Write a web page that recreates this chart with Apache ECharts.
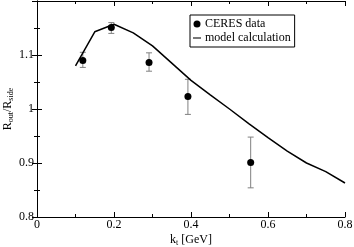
<!DOCTYPE html>
<html><head><meta charset="utf-8">
<script src="https://cdn.jsdelivr.net/npm/echarts@6/dist/echarts.min.js"></script>
<style>html,body{margin:0;padding:0;background:#fff}#c{width:354px;height:247px}</style>
</head><body><div id="c"></div>
<script>
var dataX = [0.119, 0.193, 0.291, 0.392, 0.555];
var dataY = [1.090, 1.151, 1.086, 1.023, 0.901];
var errLow = [1.077, 1.140, 1.070, 0.990, 0.854];
var errHigh = [1.105, 1.160, 1.104, 1.055, 0.948];
var modelX = [0.1, 0.15, 0.2, 0.25, 0.3, 0.35, 0.4, 0.45, 0.5, 0.55, 0.6, 0.65, 0.7, 0.75, 0.8];
var modelY = [1.080, 1.143, 1.157, 1.141, 1.117, 1.085, 1.053, 1.026, 1.000, 0.973, 0.947, 0.922, 0.900, 0.884, 0.863];
var xTicks = [0, 0.2, 0.4, 0.6, 0.8];
var yTicks = [0.8, 0.9, 1, 1.1];

var FONT = 'Liberation Serif';
var chart = echarts.init(document.getElementById('c'), null, {renderer: 'canvas'});
function axisCommon(show) {
  return {
    axisLine: {show: true, lineStyle: {color: '#000', width: 1}},
    axisTick: {show: true, inside: true, length: 5, lineStyle: {color: '#000'}},
    minorTick: {show: true, splitNumber: 2, length: 3, lineStyle: {color: '#000'}},
    splitLine: {show: false},
    axisLabel: {show: show, color: '#000', fontFamily: FONT, fontSize: 12}
  };
}
var xa = axisCommon(true);
xa.type = 'value'; xa.min = 0; xa.max = 0.8; xa.interval = 0.2; xa.position = 'bottom';
xa.axisLabel.margin = 2;
xa.axisLabel.formatter = function (v) { var r = Math.round(v * 10) / 10; return xTicks.indexOf(r) >= 0 ? String(r) : ''; };
xa.name = '{n|k}{s|t}{n| [GeV]}';
xa.nameLocation = 'middle'; xa.nameGap = 16; xa.nameMoveOverlap = false;
xa.nameTextStyle = {rich: {n: {fontFamily: FONT, fontSize: 12, color: '#000'}, s: {fontFamily: FONT, fontSize: 8, color: '#000', verticalAlign: 'bottom', padding: [6, 0, 0, 0]}}};
var xa2 = axisCommon(false);
xa2.type = 'value'; xa2.min = 0; xa2.max = 0.8; xa2.interval = 0.2; xa2.position = 'top';
var ya = axisCommon(true);
ya.type = 'value'; ya.min = 0.8; ya.max = 1.2; ya.interval = 0.1; ya.position = 'left';
ya.axisLabel.margin = 3;
ya.axisLabel.formatter = function (v) { var r = Math.round(v * 10) / 10; return yTicks.indexOf(r) >= 0 ? String(r) : ''; };
ya.name = '{n|R}{s|out}{n|/R}{s|side}';
ya.nameLocation = 'middle'; ya.nameGap = 22; ya.nameRotate = 90; ya.nameMoveOverlap = false;
ya.nameTextStyle = {rich: {n: {fontFamily: FONT, fontSize: 12, color: '#000'}, s: {fontFamily: FONT, fontSize: 8, color: '#000', verticalAlign: 'bottom', padding: [6, 0, 0, 0]}}};
var ya2 = axisCommon(false);
ya2.type = 'value'; ya2.min = 0.8; ya2.max = 1.2; ya2.interval = 0.1; ya2.position = 'right';

var scatterData = dataX.map(function (x, i) { return [x, dataY[i]]; });
var errData = dataX.map(function (x, i) { return [x, errLow[i], errHigh[i]]; });
var modelData = modelX.map(function (x, i) { return [x, modelY[i]]; });

chart.setOption({
  animation: false,
  grid: {left: 37, right: 9, top: 1, bottom: 30, containLabel: false, outerBoundsMode: 'none'},
  xAxis: [xa, xa2],
  yAxis: [ya, ya2],
  legend: {
    orient: 'vertical', left: 190, top: 15, width: 120,
    data: [{name: 'CERES data', icon: 'circle'}, {name: 'model calculation', icon: 'path://M0,0L12,0L12,1.6L0,1.6Z'}],
    itemWidth: 8, itemHeight: 7, itemGap: 2,
    borderColor: '#000', borderWidth: 1, borderRadius: 0, padding: [3, 4, 3, 3],
    textStyle: {fontFamily: FONT, fontSize: 12, color: '#000', padding: [0, 0, 0, -1]}
  },
  series: [
    {
      type: 'custom', name: 'err', xAxisIndex: 0, yAxisIndex: 0, data: errData, z: 2,
      renderItem: function (params, api) {
        var lo = api.coord([api.value(0), api.value(1)]);
        var hi = api.coord([api.value(0), api.value(2)]);
        var w = 3;
        var st = {stroke: '#808080', lineWidth: 1};
        return {type: 'group', children: [
          {type: 'line', shape: {x1: lo[0], y1: lo[1], x2: hi[0], y2: hi[1]}, style: st},
          {type: 'line', shape: {x1: lo[0] - w, y1: lo[1], x2: lo[0] + w, y2: lo[1]}, style: st},
          {type: 'line', shape: {x1: hi[0] - w, y1: hi[1], x2: hi[0] + w, y2: hi[1]}, style: st}
        ]};
      }
    },
    {
      type: 'line', name: 'model calculation', data: modelData, symbol: 'none',
      lineStyle: {color: '#000', width: 1.5}, itemStyle: {color: '#000'}, z: 3
    },
    {
      type: 'scatter', name: 'CERES data', data: scatterData, symbol: 'circle', symbolSize: 7,
      itemStyle: {color: '#000', opacity: 1}, z: 4
    }
  ]
});
</script></body></html>
